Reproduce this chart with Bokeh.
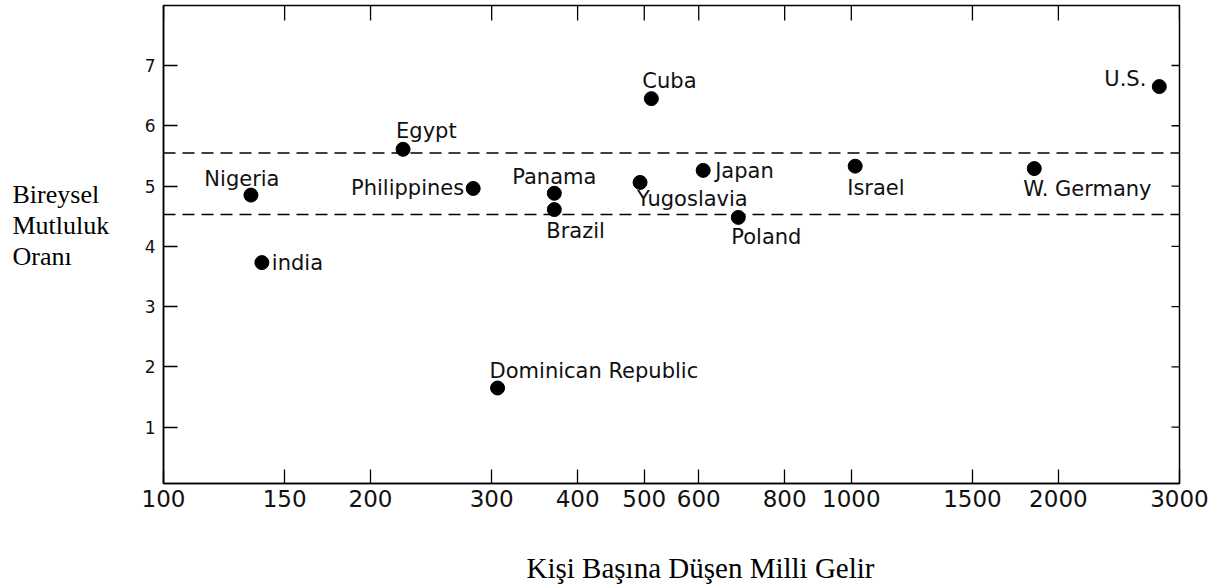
import math
from bokeh.plotting import figure
from bokeh.layouts import row, column
from bokeh.models import (Range1d, FixedTicker, Span, Label,
                          ColumnDataSource, PrintfTickFormatter)
from bokeh.embed import file_html
from bokeh.resources import INLINE
from bokeh.core.properties import value

# ---------------- data ----------------
countries = ["Nigeria", "india", "Egypt", "Philippines", "Panama", "Brazil",
             "Yugoslavia", "Cuba", "Japan", "Poland", "Israel", "W. Germany",
             "U.S.", "Dominican Republic"]
income = [134, 139, 223, 282, 370, 370, 493, 512, 609, 685, 1013, 1845, 2804, 306]
happiness = [4.85, 3.73, 5.61, 4.96, 4.88, 4.61, 5.06, 6.45, 5.26, 4.48, 5.33, 5.29, 6.65, 1.65]
band = [4.53, 5.55]
x_ticks = [100, 150, 200, 300, 400, 500, 600, 800, 1000, 1500, 2000, 3000]
y_ticks = [1, 2, 3, 4, 5, 6, 7]
x_title = "Kişi Başına Düşen Milli Gelir"
y_title = ["Bireysel", "Mutluluk", "Oranı"]

# ---------------- label placement (style) ----------------
label_style = {
    "Nigeria": (-9, -16, "center"),
    "india": (10, 0, "left"),
    "Egypt": (-7, -18, "left"),
    "Philippines": (-9, 0, "right"),
    "Panama": (0, -16, "center"),
    "Brazil": (-8, 21, "left"),
    "Yugoslavia": (-3, 17, "left"),
    "Cuba": (-9, -18, "left"),
    "Japan": (12, 1, "left"),
    "Poland": (-7, 20, "left"),
    "Israel": (-8, 22, "left"),
    "W. Germany": (-11, 20, "left"),
    "U.S.": (-13, -8, "right"),
    "Dominican Republic": (-8, -17, "left"),
}

LABEL_FONT = "DejaVu Sans"
TITLE_FONT = "Liberation Serif"
INK = "#111111"
FRAME_L, FRAME_R = 163, 1179   # page x of frame edges
FRAME_T, FRAME_B = 5, 483      # page y of frame edges
BOTTOM_AXIS = 36               # room for the x tick labels
H1 = FRAME_B + BOTTOM_AXIS     # height of the chart row
H2 = 66                        # height of the strip holding the x title
LEFT_W = 120                   # width of the side panel holding the y title
MAIN_W = 1105
TOTAL_W = LEFT_W + MAIN_W

X0, X1 = 100, 3000
Y0, Y1 = 0.066, 7.995

# ---------------- side panel with the horizontal y title ----------------
side = figure(width=LEFT_W, height=H1, x_range=Range1d(0, 1), y_range=Range1d(0, 1),
              x_axis_location=None, y_axis_location=None,
              output_backend="svg", toolbar_location=None, min_border=0)
side.outline_line_color = None
side.grid.visible = False
for k, line in enumerate(y_title):
    side.add_layout(Label(x=12, y=FRAME_B - (194 + 31 * k), x_units="screen", y_units="screen",
                          text=line, text_align="left", text_baseline="middle",
                          text_font=TITLE_FONT, text_font_size="26px",
                          text_color="black"))

# ---------------- main chart ----------------
p = figure(width=MAIN_W, height=H1, x_axis_type="log",
           x_range=Range1d(X0, X1), y_range=Range1d(Y0, Y1),
           output_backend="svg", toolbar_location=None,
           min_border_left=FRAME_L - LEFT_W,
           min_border_right=MAIN_W - (FRAME_R - LEFT_W),
           min_border_top=FRAME_T, min_border_bottom=BOTTOM_AXIS)
p.xgrid.visible = False
p.ygrid.visible = False
p.outline_line_color = "black"
p.outline_line_width = 1.5
p.background_fill_color = "white"
p.border_fill_color = "white"

# bottom axis
xa = p.xaxis[0]
xa.ticker = FixedTicker(ticks=x_ticks)
xa.formatter = PrintfTickFormatter(format="%d")
xa.major_tick_in = 14
xa.major_tick_out = 0
xa.minor_tick_in = 0
xa.minor_tick_out = 0
xa.major_label_standoff = 6
xa.major_label_text_font = LABEL_FONT
xa.major_label_text_font_size = "23px"
xa.major_label_text_color = INK
xa.axis_line_width = 1.5
xa.major_tick_line_width = 1.3
xa.major_tick_line_color = "black"
xa.axis_line_color = "black"

# left axis
ya = p.yaxis[0]
ya.ticker = FixedTicker(ticks=y_ticks)
ya.major_tick_in = 14
ya.major_tick_out = 0
ya.minor_tick_in = 0
ya.minor_tick_out = 0
ya.major_label_standoff = 8
ya.major_label_text_font = LABEL_FONT
ya.major_label_text_font_size = "17px"
ya.major_label_text_color = INK
ya.axis_line_width = 1.5
ya.major_tick_line_width = 1.3
ya.major_tick_line_color = "black"

# top and right inward ticks (markers centred on the frame edge, clipped to frame)
p.scatter(x=x_ticks, y=[Y1] * len(x_ticks), marker="dash", angle=math.pi / 2,
          size=30, line_color="black", line_width=1.3)
p.scatter(x=[X1] * len(y_ticks), y=y_ticks, marker="dash",
          size=16, line_color="black", line_width=1.3)

# dashed band lines
for v in band:
    p.add_layout(Span(location=v, dimension="width", line_color="black",
                      line_width=1.5, line_dash="12 7"))

# points
src = ColumnDataSource(dict(income=income, happiness=happiness, name=countries))
p.scatter(x="income", y="happiness", source=src, size=14, color="black")

# point labels
for align in ["left", "center", "right"]:
    idx = [i for i, c in enumerate(countries) if label_style[c][2] == align]
    s = ColumnDataSource(dict(
        x=[income[i] for i in idx],
        y=[happiness[i] for i in idx],
        t=[countries[i] for i in idx],
        dx=[label_style[countries[i]][0] for i in idx],
        dy=[label_style[countries[i]][1] for i in idx],
    ))
    p.text(x="x", y="y", text="t", source=s, x_offset="dx", y_offset="dy",
           text_align=align, text_baseline="middle",
           text_font=value(LABEL_FONT), text_font_size="21px", text_color=INK)

# ---------------- strip below with the x title ----------------
bottom = figure(width=TOTAL_W, height=H2, x_range=Range1d(0, 1), y_range=Range1d(0, 1),
                x_axis_location=None, y_axis_location=None,
                output_backend="svg", toolbar_location=None, min_border=0)
bottom.outline_line_color = None
bottom.grid.visible = False
bottom.add_layout(Label(x=700, y=H2 - (567 - H1), x_units="screen", y_units="screen",
                        text=x_title, text_align="center", text_baseline="middle",
                        text_font=TITLE_FONT, text_font_size="29px",
                        text_color="black"))

layout = column(row(side, p, spacing=0), bottom, spacing=0)
open("out.html", "w").write(file_html(layout, INLINE))
